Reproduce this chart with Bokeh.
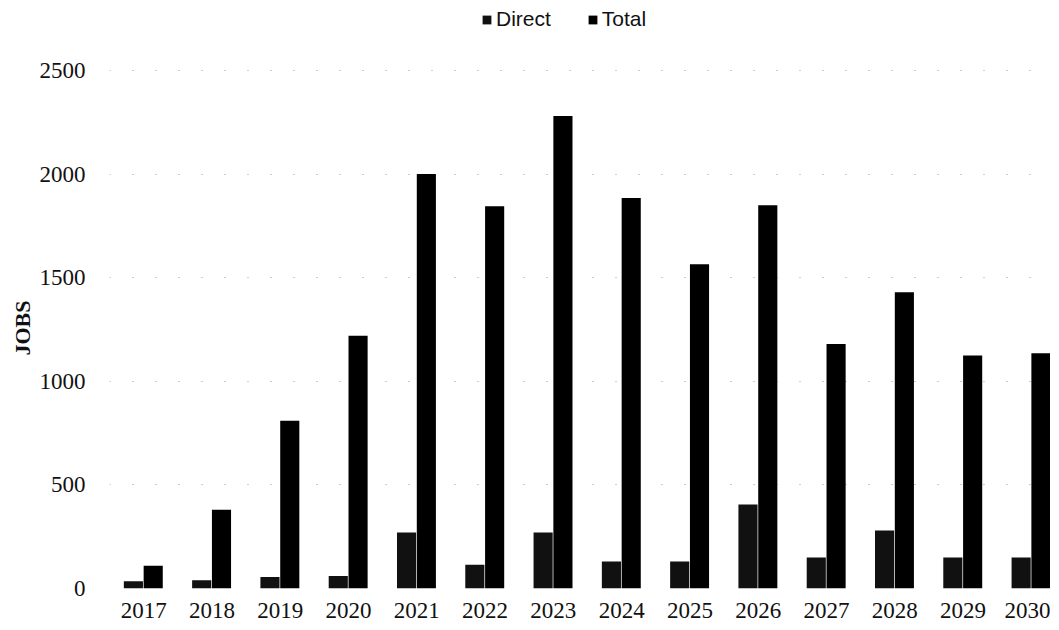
from bokeh.plotting import figure
from bokeh.models import Range1d, FixedTicker, Legend, LegendItem, ColumnDataSource, Title
from bokeh.transform import dodge
from bokeh.embed import file_html
from bokeh.resources import INLINE

years = ["2017", "2018", "2019", "2020", "2021", "2022", "2023",
         "2024", "2025", "2026", "2027", "2028", "2029", "2030"]
direct = [35, 40, 55, 60, 270, 115, 270, 130, 130, 405, 150, 280, 150, 150]
total = [110, 380, 810, 1220, 2000, 1845, 2280, 1885, 1565, 1850, 1180, 1430, 1125, 1135]
y_ticks = [0, 500, 1000, 1500, 2000, 2500]
series_names = ["Direct", "Total"]
y_title = "JOBS"

idx = list(range(len(years)))
src = ColumnDataSource(dict(x=idx, direct=direct, total=total))

p = figure(width=1050, height=622, output_backend="svg", toolbar_location=None,
           x_range=Range1d(-0.5, 13.28), y_range=Range1d(0, 2838),
           min_border_left=109, min_border_right=0, min_border_top=0,
           min_border_bottom=34)
p.outline_line_color = None
p.background_fill_color = "white"
p.border_fill_color = "white"

r1 = p.vbar(x=dodge("x", -0.15, range=p.x_range), top="direct", width=0.28,
            source=src, fill_color="#111111", line_color=None)
r2 = p.vbar(x=dodge("x", 0.14, range=p.x_range), top="total", width=0.28,
            source=src, fill_color="#000000", line_color=None)

# axes
p.xaxis.ticker = FixedTicker(ticks=idx)
p.xaxis.major_label_overrides = {i: y for i, y in zip(idx, years)}
p.yaxis.ticker = FixedTicker(ticks=y_ticks)
for ax in (p.xaxis[0], p.yaxis[0]):
    ax.axis_line_color = None
    ax.major_tick_line_color = None
    ax.minor_tick_line_color = None
    ax.major_label_text_font = "Liberation Serif"
    ax.major_label_text_font_size = "23px"
    ax.major_label_text_color = "#111111"
p.xaxis.major_label_standoff = 8
p.yaxis.major_label_standoff = 18

jobs = Title(text=y_title, align="left", offset=233,
             text_font="Liberation Serif", text_font_size="22px",
             text_font_style="bold", text_color="#111111", standoff=4)
p.add_layout(jobs, "left")

p.xgrid.grid_line_color = None
p.ygrid.grid_line_color = "#9a9a9a"
p.ygrid.grid_line_dash = "1 22"
p.ygrid.grid_line_width = 1

legend = Legend(items=[LegendItem(label=series_names[0], renderers=[r1]),
                       LegendItem(label=series_names[1], renderers=[r2])],
                orientation="horizontal", location=(372, 557))
legend.label_text_font = "Liberation Sans"
legend.label_text_font_size = "21px"
legend.label_text_color = "#111111"
legend.glyph_width = 11
legend.glyph_height = 11
legend.spacing = 36
legend.label_standoff = 4
legend.border_line_color = None
legend.background_fill_alpha = 0
legend.padding = 2
legend.margin = 0
p.add_layout(legend, "center")

open("out.html", "w").write(file_html(p, INLINE))
